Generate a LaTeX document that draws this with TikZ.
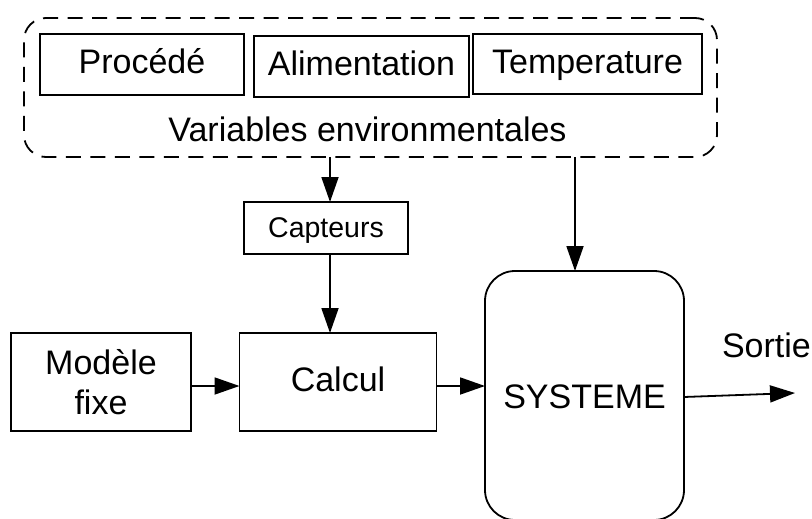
\documentclass[tikz,border=0pt]{standalone}
\usepackage{fontspec}
\setmainfont{Liberation Sans}
\usetikzlibrary{arrows.meta}
\begin{document}
\begin{tikzpicture}[x=1pt,y=-1pt,
  every node/.style={inner sep=0pt, outer sep=0pt},
  lw/.style={line width=1.8pt},
  big/.style={font=\fontsize{34}{40}\selectfont},
  box/.style={draw, lw, big, text height=25.5pt, text depth=6.8pt},
  envbox/.style={draw, lw, dash pattern=on 15pt off 9.5pt, rounded corners=22pt},
  sysbox/.style={draw, lw, big, rounded corners=30pt, text height=25.5pt, text depth=0pt},
  arr/.style={lw, -{Triangle[length=25pt,width=17pt]}}]
\useasboundingbox (0,0) rectangle (812,519);
% environment group
\node[envbox, minimum width=693pt, minimum height=139pt] (env) at (370.5,87.5) {};
\node[box, minimum width=204pt, minimum height=61pt] (proc) at (142,64.5) {Procédé};
\node[box, minimum width=215pt, minimum height=61pt] (alim) at (361.5,66.5) {Alimentation};
\node[box, minimum width=229pt, minimum height=60pt] (temp) at (587.5,64) {Temperature};
\node[big, anchor=base] (varenv) at (367.5,142) {Variables environmentales};
% main chain
\node[draw, lw, font=\fontsize{28.5}{34}\selectfont, text height=21pt, text depth=3pt,
      minimum width=164pt, minimum height=52pt] (cap) at (326,228) {Capteurs};
\node[box, minimum width=197pt, minimum height=98pt] (calc) at (338,382) {Calcul};
\node[draw, lw, big, align=center, minimum width=180pt, minimum height=98pt] (mod) at (101,382) {Modèle\\fixe};
\node[sysbox, minimum width=199pt, minimum height=249pt] (sys) at (584.5,395.5) {SYSTEME};
\node[big, anchor=base west] (sortie) at (722,357) {Sortie};
% helper coordinates
\coordinate (xa) at (330,0);
\coordinate (xb) at (575,0);
\coordinate (yc) at (0,386);
\coordinate (yo) at (0,397);
\coordinate (out) at (795,393);
% connectors
\draw[arr] (env.south -| xa) -- (cap.north -| xa);
\draw[arr] (cap.south -| xa) -- (calc.north -| xa);
\draw[arr] (env.south -| xb) -- (sys.north -| xb);
\draw[arr] (mod.east |- yc) -- (calc.west |- yc);
\draw[arr] (calc.east |- yc) -- (sys.west |- yc);
\draw[arr] (sys.east |- yo) -- (out);
\end{tikzpicture}
\end{document}
